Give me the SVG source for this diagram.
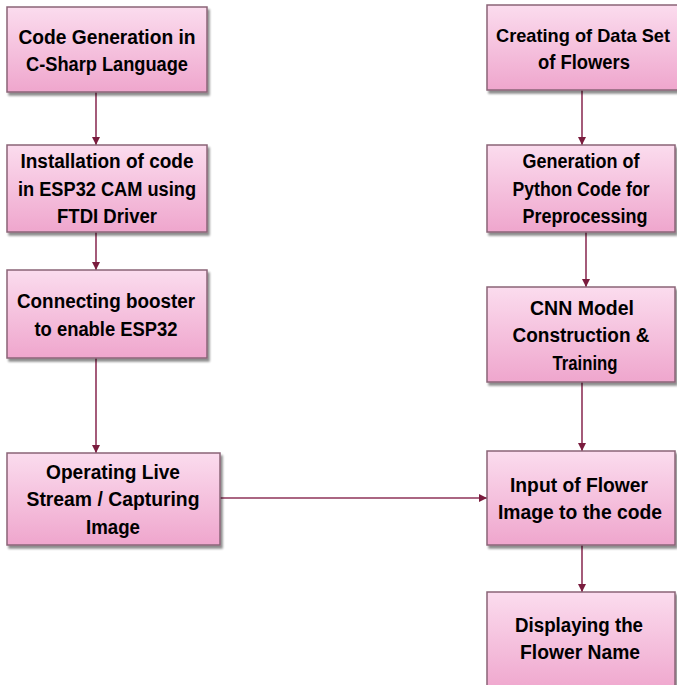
<svg xmlns="http://www.w3.org/2000/svg" width="677" height="685" viewBox="0 0 677 685">
<defs>
<linearGradient id="g" x1="0" y1="0" x2="0" y2="1">
<stop offset="0" stop-color="#fbdcee"/>
<stop offset="1" stop-color="#efa6cd"/>
</linearGradient>
<filter id="sh" x="-10%" y="-10%" width="130%" height="130%">
<feGaussianBlur in="SourceAlpha" stdDeviation="1.2"/>
<feOffset dx="2" dy="2.5" result="b"/>
<feComponentTransfer><feFuncA type="linear" slope="0.45"/></feComponentTransfer>
<feMerge><feMergeNode/><feMergeNode in="SourceGraphic"/></feMerge>
</filter>
<marker id="ah" viewBox="0 0 10 10" refX="10" refY="5" markerWidth="8" markerHeight="8" markerUnits="userSpaceOnUse" orient="auto">
<path d="M0,0 L10,5 L0,10 z" fill="#7a1c3e"/>
</marker>
</defs>
<style>
.box{fill:url(#g);stroke:#8a6477;stroke-width:1.5;filter:url(#sh)}
.t{font-family:"Liberation Sans",Arial,sans-serif;font-weight:bold;font-size:20px;fill:#000;text-anchor:middle}
.c{fill:none;stroke:#8e3358;stroke-width:1.6;marker-end:url(#ah)}
</style>
<rect width="677" height="685" fill="#ffffff"/>
<g id="connectors">
<line class="c" x1="96" y1="92" x2="96" y2="145"/>
<line class="c" x1="96" y1="232" x2="96" y2="270"/>
<line class="c" x1="96" y1="358" x2="96" y2="453"/>
<line class="c" x1="220" y1="498" x2="487" y2="498"/>
<line class="c" x1="582" y1="90" x2="582" y2="145"/>
<line class="c" x1="586" y1="232" x2="586" y2="287"/>
<line class="c" x1="582" y1="382" x2="582" y2="451"/>
<line class="c" x1="582" y1="545" x2="582" y2="592"/>
</g>
<g id="n1">
<rect class="box" x="7" y="7" width="200" height="85"/>
<text class="t" x="107" y="43.5" textLength="177" lengthAdjust="spacingAndGlyphs">Code Generation in</text>
<text class="t" x="107" y="71" textLength="162" lengthAdjust="spacingAndGlyphs">C-Sharp Language</text>
</g>
<g id="n2">
<rect class="box" x="7" y="145" width="200" height="87"/>
<text class="t" x="107" y="168" textLength="173" lengthAdjust="spacingAndGlyphs">Installation of code</text>
<text class="t" x="107" y="195.5" textLength="178" lengthAdjust="spacingAndGlyphs">in ESP32 CAM using</text>
<text class="t" x="107" y="223" textLength="100" lengthAdjust="spacingAndGlyphs">FTDI Driver</text>
</g>
<g id="n3">
<rect class="box" x="7" y="270" width="200" height="88"/>
<text class="t" x="106" y="308" textLength="178" lengthAdjust="spacingAndGlyphs">Connecting booster</text>
<text class="t" x="106" y="335.5" textLength="143" lengthAdjust="spacingAndGlyphs">to enable ESP32</text>
</g>
<g id="n4">
<rect class="box" x="7" y="453" width="213" height="92"/>
<text class="t" x="113" y="478.5" textLength="134" lengthAdjust="spacingAndGlyphs">Operating Live</text>
<text class="t" x="113" y="506" textLength="173" lengthAdjust="spacingAndGlyphs">Stream / Capturing</text>
<text class="t" x="113" y="533.5" textLength="54" lengthAdjust="spacingAndGlyphs">Image</text>
</g>
<g id="n5">
<rect class="box" x="487" y="5" width="196" height="85"/>
<text class="t" x="583" y="41.5" style="font-size:19px" textLength="174" lengthAdjust="spacingAndGlyphs">Creating of Data Set</text>
<text class="t" x="584" y="69" textLength="92" lengthAdjust="spacingAndGlyphs">of Flowers</text>
</g>
<g id="n6">
<rect class="box" x="487" y="145" width="188" height="87"/>
<text class="t" x="581" y="168" textLength="117" lengthAdjust="spacingAndGlyphs">Generation of</text>
<text class="t" x="581" y="195.5" textLength="137" lengthAdjust="spacingAndGlyphs">Python Code for</text>
<text class="t" x="585" y="223" textLength="125" lengthAdjust="spacingAndGlyphs">Preprocessing</text>
</g>
<g id="n7">
<rect class="box" x="487" y="287" width="188" height="95"/>
<text class="t" x="582" y="314.5" textLength="104" lengthAdjust="spacingAndGlyphs">CNN Model</text>
<text class="t" x="581" y="342" textLength="137" lengthAdjust="spacingAndGlyphs">Construction &amp;</text>
<text class="t" x="585" y="369.5" textLength="65" lengthAdjust="spacingAndGlyphs">Training</text>
</g>
<g id="n8">
<rect class="box" x="487" y="451" width="188" height="94"/>
<text class="t" x="579" y="491.5" textLength="138" lengthAdjust="spacingAndGlyphs">Input of Flower</text>
<text class="t" x="580" y="519" textLength="164" lengthAdjust="spacingAndGlyphs">Image to the code</text>
</g>
<g id="n9">
<rect class="box" x="487" y="592" width="188" height="100"/>
<text class="t" x="579" y="631.5" textLength="128" lengthAdjust="spacingAndGlyphs">Displaying the</text>
<text class="t" x="580" y="659" textLength="120" lengthAdjust="spacingAndGlyphs">Flower Name</text>
</g>
</svg>
